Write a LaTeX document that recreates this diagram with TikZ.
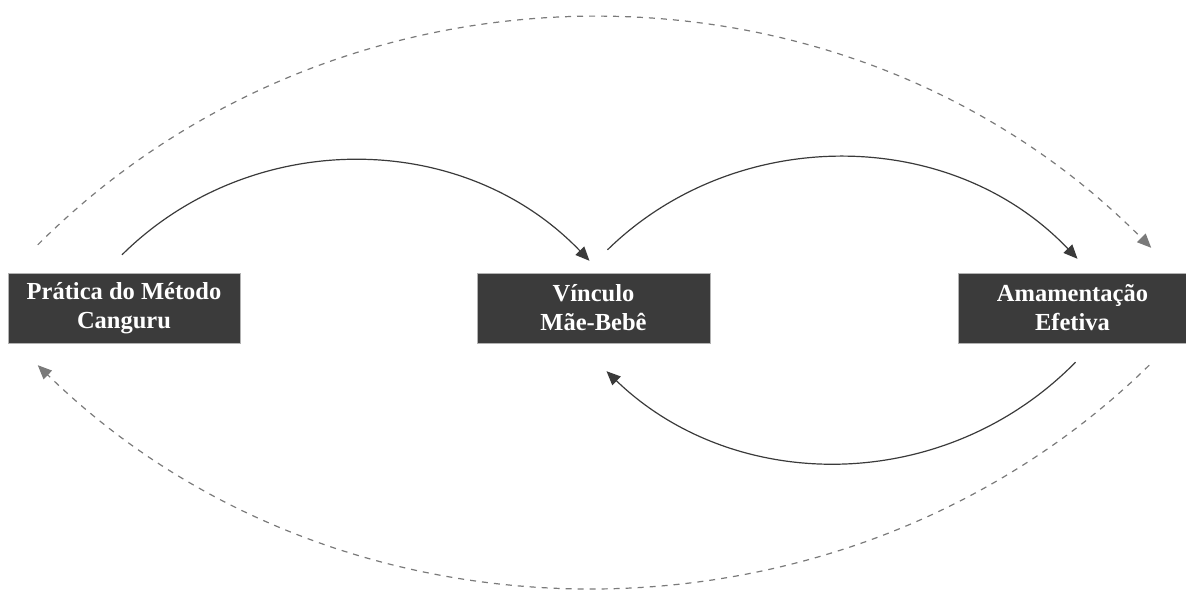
\documentclass[tikz,border=0pt]{standalone}
\usepackage{fontspec}
\setmainfont{Liberation Serif}
\usetikzlibrary{arrows.meta}
\definecolor{boxgray}{HTML}{3B3B3B}
\definecolor{linegray}{HTML}{3A3A3A}
\definecolor{dashgray}{HTML}{7A7A7A}
\begin{document}
\begin{tikzpicture}[x=1pt,y=-1pt]

    \tikzset{
      stage/.style={
        draw=gray!60,
        fill=boxgray,
        text=white,
        font=\fontsize{24.5}{29}\selectfont\bfseries,
        align=center,
        inner sep=0pt,
        minimum height=70pt,
      },
      link/.style={
        color=linegray,
        line width=1.2pt,
        -{Triangle[length=14pt,width=12pt]},
      },
      loop/.style={
        color=dashgray,
        line width=1.2pt,
        dash pattern=on 6pt off 6pt,
        -{Triangle[length=14pt,width=12pt]},
      },
    }
    \useasboundingbox (0,0) rectangle (1186,590);
    \node[stage,minimum width=232pt] (pmc) at (124,308) {Prática do Método\\Canguru};
    \node[stage,minimum width=233pt] (vmb) at (593.5,308) {Vínculo\\Mãe-Bebê};
    \node[stage,minimum width=229pt] (ame) at (1072.5,308) {Amamentação\\Efetiva};
	\draw[link] ([xshift=-2pt,yshift=18pt]pmc.north) .. controls (250,128) and (462,128) .. ([xshift=-4pt,yshift=12pt]vmb.north);
	\draw[link] ([xshift=14pt,yshift=23pt]vmb.north) .. controls (735,125) and (950,125) .. ([xshift=5pt,yshift=14pt]ame.north);
	\draw[link] ([xshift=3pt,yshift=-19pt]ame.south) .. controls (945,495) and (735,495) .. ([xshift=13pt,yshift=-28pt]vmb.south);
	\draw[loop] ([xshift=30pt,yshift=28pt]pmc.north west) .. controls (342,-59) and (846,-59) .. ([xshift=-36pt,yshift=25pt]ame.north east);
	\draw[loop] ([xshift=-38pt,yshift=-22pt]ame.south east) .. controls (846,662) and (342,662) .. ([xshift=30pt,yshift=-22pt]pmc.south west);

\end{tikzpicture}
\end{document}
